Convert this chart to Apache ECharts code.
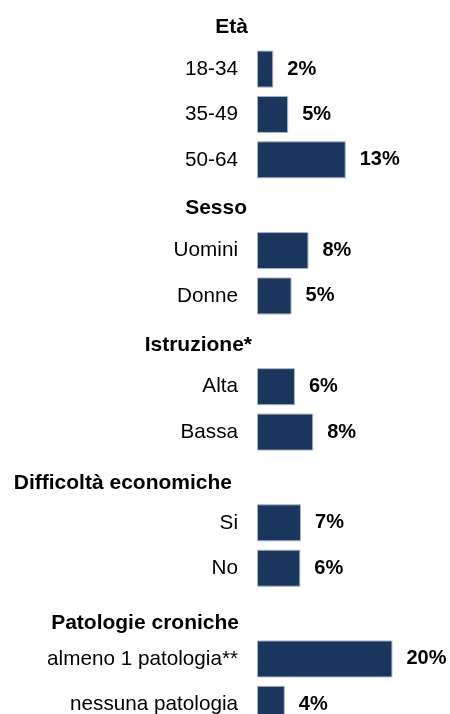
<!DOCTYPE html>
<html>
<head>
<meta charset="utf-8">
<script src="https://cdn.jsdelivr.net/npm/echarts@6/dist/echarts.min.js"></script>
<style>
  html, body { margin: 0; padding: 0; background: #fff; overflow: hidden; }
  /* the last row runs past the bottom edge of the window */
  #chart { width: 450px; height: 740px; }
</style>
</head>
<body>
<div id="chart"></div>
<script>
// Group headings (rows without a bar)
const headers = ['Età', 'Sesso', 'Istruzione*', 'Difficoltà economiche', 'Patologie croniche'];

// Rows from top to bottom, headings included
const categories = [
  'Età', '18-34', '35-49', '50-64',
  'Sesso', 'Uomini', 'Donne',
  'Istruzione*', 'Alta', 'Bassa',
  'Difficoltà economiche', 'Si', 'No',
  'Patologie croniche', 'almeno 1 patologia**', 'nessuna patologia'
];

// Percentages per row (null on heading rows)
const values = [
  null, 2.4, 4.6, 13.1,
  null, 7.6, 5.1,
  null, 5.6, 8.3,
  null, 6.5, 6.4,
  null, 20.0, 4.1
];

const FONT = "'Liberation Sans', Arial, sans-serif";

// Per-heading nudges: [top padding, right padding]
const headerPad = {
  'Età': [7, 5],
  'Sesso': [7, 6],
  'Istruzione*': [8, 1],
  'Difficoltà economiche': [12, 21],
  'Patologie croniche': [20, 14]
};

const rich = {
  c: { fontSize: 20.7, fontFamily: FONT, color: '#000', padding: [0, 15, 0, 0] }
};
headers.forEach((h, i) => {
  rich['h' + i] = {
    fontSize: 21, fontFamily: FONT, fontWeight: 'bold', color: '#000',
    padding: [headerPad[h][0], headerPad[h][1], 0, 0]
  };
});

const chart = echarts.init(document.getElementById('chart'), null, { renderer: 'canvas' });
chart.setOption({
  animation: false,
  backgroundColor: '#fff',
  grid: { left: 257, top: 1, width: 193, height: 726, containLabel: false },
  xAxis: {
    type: 'value', min: 0, max: 28.5, show: false,
    splitLine: { show: false }
  },
  yAxis: {
    type: 'category',
    data: categories,
    inverse: true,
    axisLine: { show: false },
    axisTick: { show: false },
    splitLine: { show: false },
    axisLabel: {
      interval: 0,
      margin: 4,
      align: 'right',
      formatter: function (name) {
        const hi = headers.indexOf(name);
        return hi >= 0 ? '{h' + hi + '|' + name + '}' : '{c|' + name + '}';
      },
      rich: rich
    }
  },
  series: [{
    type: 'bar',
    data: values,
    barWidth: 37,
    itemStyle: { color: '#1b365d', borderColor: '#a9b3c3', borderWidth: 1 },
    label: {
      show: true,
      position: 'right',
      distance: 14,
      fontFamily: FONT,
      fontSize: 20,
      fontWeight: 'bold',
      color: '#000',
      formatter: function (p) {
        return p.value == null ? '' : Math.round(p.value) + '%';
      }
    }
  }]
});
</script>
</body>
</html>
